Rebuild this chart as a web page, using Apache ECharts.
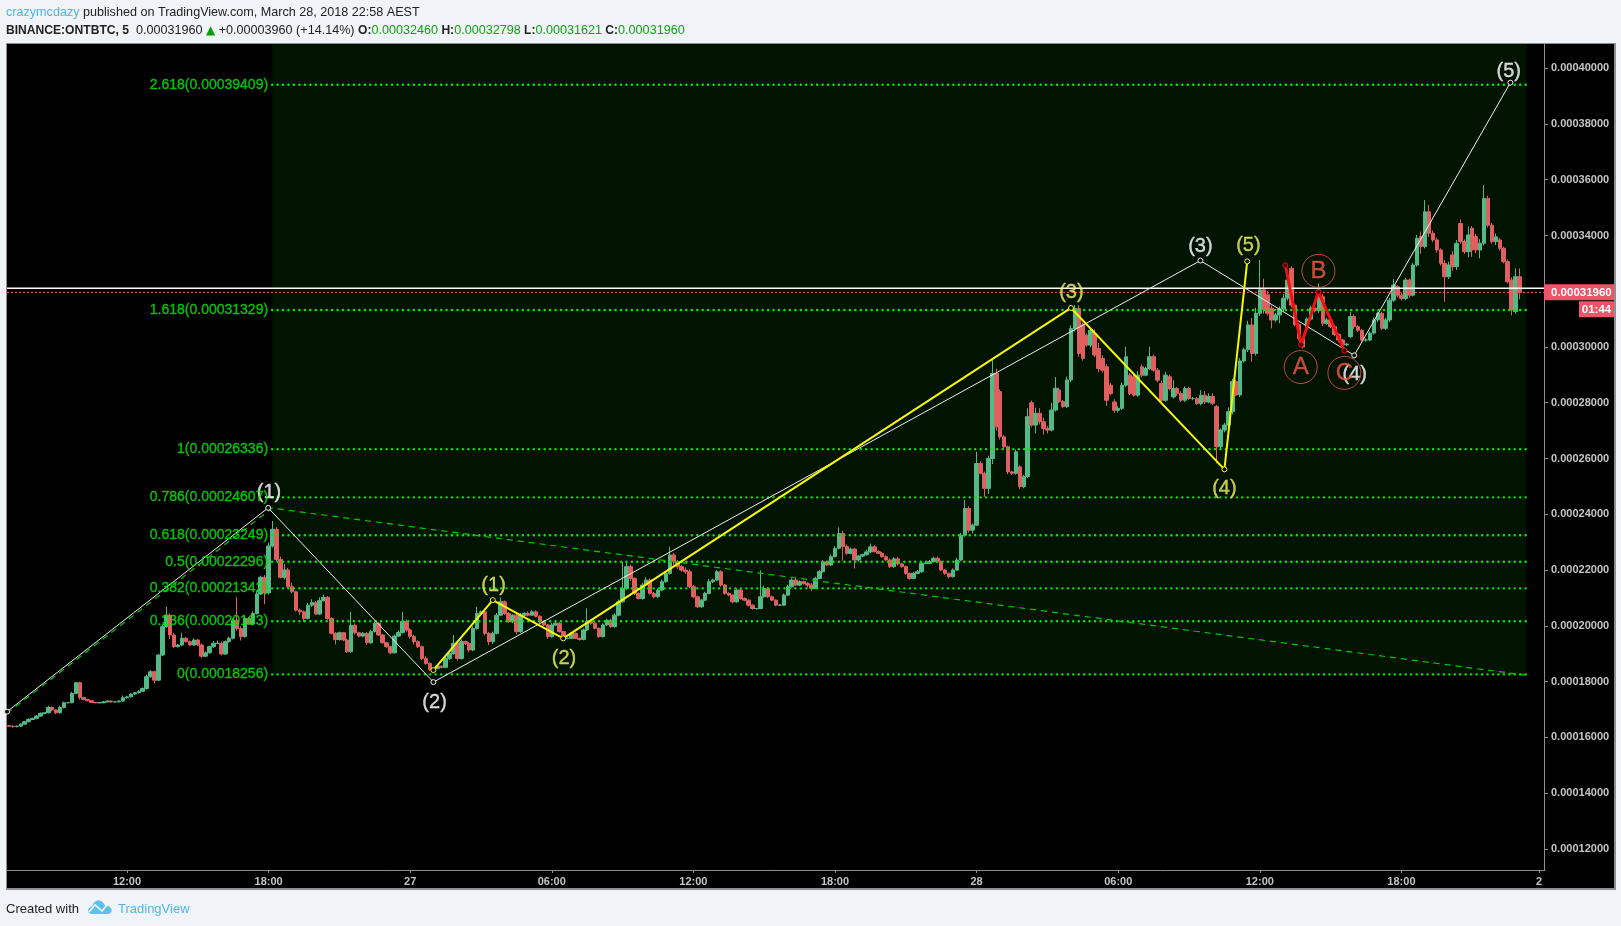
<!DOCTYPE html>
<html><head><meta charset="utf-8">
<style>
html,body{margin:0;padding:0;width:1621px;height:926px;background:#f0f3f8;overflow:hidden}
#panel{position:absolute;left:6px;top:43px;width:1607px;height:844px;background:#000;border:1px solid #8c8f94;border-width:1px 2px 2px 1px}
#c{position:absolute;left:0;top:0;width:1621px;height:926px}
</style></head><body>
<div id="panel"></div><div id="c"></div>
<script src="https://cdn.jsdelivr.net/npm/echarts@6/dist/echarts.min.js"></script>
<script>
// prices are in units of 0.0000001 BTC; each candle covers ten minutes
var closes=[
1640,1638,1640,1647,1656,1664,1668,1676,1686,1688,
1707,1698,1688,1707,1724,1724,1757,1796,1743,1736,
1731,1725,1724,1724,1727,1730,1727,1727,1730,1742,
1745,1755,1760,1765,1775,1817,1835,1805,1895,1997,
2038,1967,1925,1931,1955,1943,1931,1949,1931,1891,
1903,1925,1937,1937,1899,1943,1955,2020,1990,1961,
2026,2006,2044,2114,2174,2118,2286,2346,2238,2174,
2200,2140,2122,2056,2050,2026,2074,2083,2042,2090,
2102,2026,1973,1951,1975,1949,1907,2002,1975,1963,
1973,1939,1979,2009,1967,1939,1925,1903,1963,1976,
2015,1985,1962,1943,1925,1883,1865,1843,1847,1855,
1851,1882,1900,1937,1883,1943,1937,1913,1990,2044,
2050,1973,1943,1973,2038,2086,2044,2015,2038,1979,
2038,2044,2038,2050,2034,2015,2003,1961,2003,2009,
1979,1955,1955,1973,1955,1951,1985,2015,2009,1991,
1961,2003,2020,1997,2038,2086,2134,2212,2170,2116,
2098,2146,2164,2116,2104,2128,2158,2188,2254,2230,
2212,2200,2194,2140,2104,2068,2092,2116,2158,2164,
2194,2146,2116,2110,2086,2128,2098,2092,2074,2062,
2062,2104,2134,2104,2092,2074,2074,2110,2140,2164,
2146,2158,2152,2146,2134,2170,2194,2230,2218,2248,
2278,2331,2284,2260,2275,2236,2250,2255,2265,2283,
2266,2260,2248,2236,2212,2240,2222,2212,2188,2170,
2188,2194,2224,2224,2230,2242,2230,2200,2188,2176,
2200,2236,2325,2421,2343,2361,2582,2547,2493,2600,
2905,2714,2678,2642,2552,2547,2624,2499,2535,2750,
2720,2762,2732,2708,2702,2774,2852,2804,2786,2882,
3066,3138,2977,2959,3007,3060,2971,2923,2917,2809,
2833,2773,2780,2863,2965,2833,2827,2899,2899,2923,
2965,2917,2881,2809,2899,2851,2851,2833,2809,2851,
2815,2815,2797,2827,2803,2822,2798,2642,2702,2720,
2768,2876,2828,2950,2990,3079,2977,3121,3205,3134,
3121,3097,3115,3136,3175,3240,3150,3080,3030,3000,
3100,3140,3130,3180,3085,3097,3073,3045,3025,3008,
3010,3109,3073,3060,3025,3025,3050,3097,3121,3067,
3097,3168,3222,3186,3174,3240,3186,3294,3390,3360,
3485,3408,3384,3348,3300,3252,3294,3288,3372,3378,
3342,3402,3348,3348,3372,3533,3437,3378,3395,3354,
3306,3234,3133,3252,3196];
// candles whose open differs visibly from the previous close
var openGaps={252:2840,257:2570,260:2800,267:2846,273:3080,274:3042,276:3048,277:2995,278:2959,279:2929,280:2863,281:2803,285:2899,286:2893,288:2929,293:2869,295:2893,296:2821,307:2786,320:3187,321:3139,326:3282,330:3070,341:3037,353:3216,359:3396,367:3330,369:3443,372:3426,373:3396,379:3384,382:3240,383:3127};
var firstOpen=1642;
var wickUp=[
3,2,2,4,3,4,2,4,3,2,
6,4,2,5,4,3,6,2,3,2,
2,2,1,1,3,2,2,1,3,8,
4,3,3,5,4,8,6,4,4,8,
30,6,8,4,20,5,4,6,4,5,
5,4,8,10,6,4,6,6,84,8,
10,6,8,12,6,8,12,30,8,10,
22,8,15,4,6,5,8,12,6,12,
10,5,5,4,4,3,5,48,6,4,
5,4,6,6,4,3,4,3,6,8,
35,8,6,6,5,4,8,4,3,3,
3,6,12,30,6,8,4,4,8,24,
5,4,5,6,8,15,5,5,4,5,
8,5,8,6,5,4,4,4,8,6,
5,3,3,4,3,3,5,48,8,6,
3,6,5,5,6,8,95,20,8,4,
4,8,10,6,5,6,8,8,30,8,
6,6,10,8,6,4,5,6,10,5,
6,5,4,4,3,5,5,4,3,3,
2,95,10,5,4,3,4,6,8,6,
8,5,4,4,8,6,6,5,4,8,
8,22,10,8,6,5,4,4,8,12,
6,5,5,4,6,6,6,4,4,3,
5,6,8,6,6,6,6,4,4,3,
6,8,8,30,8,6,42,8,6,10,
48,18,8,6,4,4,8,6,6,30,
8,20,18,15,8,25,40,8,6,12,
12,12,12,8,6,6,15,20,12,10,
8,10,8,10,36,8,8,15,8,6,
36,8,8,10,12,8,30,6,8,8,
6,6,5,18,15,12,12,6,6,8,
15,10,6,10,8,15,25,20,107,40,
15,10,8,10,15,15,8,6,5,5,
6,8,6,48,10,8,5,6,5,4,
5,18,8,5,5,6,6,8,6,6,
8,8,22,6,8,8,6,8,12,18,
42,25,10,8,6,12,12,15,12,15,
8,30,8,10,15,48,10,8,12,8,
6,8,10,30,30];
var wickDown=[
3,3,2,3,2,3,2,3,2,3,
3,5,5,3,3,2,2,3,8,3,
2,2,2,2,2,2,3,2,2,3,
3,2,3,3,2,4,3,12,4,4,
4,15,4,3,4,3,3,3,3,6,
3,3,4,3,5,4,3,4,8,14,
3,3,4,4,4,40,6,5,6,4,
8,6,6,5,12,12,3,6,4,4,
3,4,4,18,4,4,5,4,6,5,
4,8,4,3,4,3,4,5,3,3,
4,6,8,10,5,6,5,5,4,3,
4,3,5,4,8,4,6,8,4,4,
4,8,12,8,4,4,5,5,5,10,
4,3,4,3,4,4,4,8,4,4,
4,5,3,3,3,4,3,4,5,4,
4,3,4,4,3,4,4,6,10,6,
4,4,4,4,6,4,4,4,4,12,
8,6,8,5,5,4,3,3,3,5,
4,5,4,4,5,3,4,4,5,4,
4,3,3,4,4,4,3,3,3,3,
3,4,4,8,10,3,3,3,3,3,
3,4,50,5,4,30,6,4,4,4,
3,3,4,4,5,4,6,4,5,5,
3,3,4,3,3,3,3,4,5,6,
3,3,4,5,8,12,3,4,30,20,
20,14,10,8,8,6,5,8,6,5,
6,30,10,22,12,5,6,5,6,5,
8,10,12,8,6,8,8,14,8,20,
6,10,8,6,6,6,5,6,8,4,
6,6,8,10,6,6,6,8,6,6,
5,6,5,6,8,5,6,60,8,8,
8,10,5,8,6,8,30,8,10,15,
8,30,8,30,8,8,8,6,6,5,
5,5,6,8,10,6,6,6,8,6,
5,5,8,6,6,6,4,6,8,6,
6,8,6,8,8,6,10,5,6,25,
6,15,8,10,8,90,8,15,12,8,
8,20,25,12,30,8,8,8,12,8,
6,6,20,8,25];
var tickLabels={30:'12:00',66:'18:00',102:'27',138:'06:00',174:'12:00',210:'18:00',246:'28',282:'06:00',318:'12:00',354:'18:00',389:'2'};
var priceTicks=[12,14,16,18,20,22,24,26,28,30,32,34,36,38,40];
var fibNames=['2.618','1.618','1','0.786','0.618','0.5','0.382','0.236','0'];
var fibPrices=[0.00039409,0.00031329,0.00026336,0.00024607,0.00023249,0.00022296,0.00021342,0.00020163,0.00018256];
var fibShownPrices=['0.00039409','0.00031329','0.00026336','0.00024607','0.00023249','0.00022296','0.00021342','0.00020163','0.00018256'];
// drawn waves: [candle position, price]
var whiteWave=[[-0.5,1692],[65.9,2423],[107.9,1798],[302.9,3310],[342,2970],[381.7,3948]];
var yellowWave=[[107.9,1841],[123,2092],[140.9,1955],[270,3140],[309,2561],[314.8,3307]];
var redWave=[[324.5,3293],[328.5,3008],[332.9,3198],[339.5,2987]];
var trendLine=[[-0.5,1686],[66.9,2422],[385.4,1823]];
var whiteTexts=[['(1)',66.1,2477],['(2)',108.2,1724],['(3)',302.9,3359],['(4)',342.1,2900],['(5)',381.3,3990]];
var yellowTexts=[['(1)',123.2,2143],['(2)',141.1,1883],['(3)',270.1,3196],['(4)',309,2491],['(5)',315.1,3363]];
var redTexts=[['A',328.4,2928],['B',332.9,3273],['C',339.5,2907]];
var fibLeft=66.9, fibRight=385.7;
var lastPrice=0.0003196, sessionLine=0.00032105, countdown='01:44';

var UNIT=1e-7, COUNT=391;
var categories=[];
for(var k=0;k<COUNT;k++){var m=7*60+k*10;categories.push(('0'+(Math.floor(m/60)%24)).slice(-2)+':'+('0'+(m%60)).slice(-2));}
var candles=closes.map(function(c,i){
  var o=openGaps[i]!==undefined?openGaps[i]:(i?closes[i-1]:firstOpen);
  var hi=Math.max(o,c)+(wickUp[i]||0), lo=Math.min(o,c)-(wickDown[i]||0);
  return [o*UNIT,c*UNIT,lo*UNIT,hi*UNIT];
});
function pts(a){return a.map(function(p){return [p[0],p[1]*UNIT];});}
var FONT='"Liberation Sans",Arial,sans-serif';
var LIME='#00ea00';
function lineS(data,color,width,extra){
  var s={type:'line',xAxisIndex:1,yAxisIndex:0,data:pts(data),showSymbol:true,symbol:'circle',symbolSize:5,silent:true,animation:false,
    lineStyle:{color:color,width:width},itemStyle:{color:'#0a0a0a',borderColor:color,borderWidth:1},z:6};
  for(var key in extra)s[key]=extra[key];
  return s;
}
function textS(list,color,size,circle){
  return {type:'scatter',xAxisIndex:1,yAxisIndex:0,silent:true,animation:false,z:8,
    symbol:'circle',symbolSize:circle?33:1,
    itemStyle:circle?{color:'rgba(0,0,0,0)',borderColor:color,borderWidth:1}:{color:'rgba(0,0,0,0)'},
    label:{show:true,position:'inside',color:color,fontSize:size,fontFamily:FONT,textBorderColor:color,textBorderWidth:0.35,formatter:function(p){return p.data[2];}},
    data:list.map(function(t){return [t[1],t[2]*UNIT,t[0]];})};
}
var series=[];
// shaded fibonacci zone and its levels
fibPrices.forEach(function(v,i){
  var s={type:'line',xAxisIndex:1,yAxisIndex:0,silent:true,animation:false,showSymbol:false,z:4,
    data:[[fibLeft,v],[fibRight,v]],lineStyle:{color:LIME,width:2.4,cap:'round',type:[0.1,5.35]}};
  if(i===fibPrices.length-1){s.markArea={silent:true,z:1,itemStyle:{color:'#011301'},data:[[{coord:[fibLeft,v]},{coord:[fibRight,0.00040868]}]]};}
  series.push(s);
});
series.push({type:'candlestick',xAxisIndex:0,yAxisIndex:0,data:candles,barWidth:4,silent:true,animation:false,z:3,
  itemStyle:{color:'#53b987',color0:'#e0605f',borderColor:'#53b987',borderColor0:'#e0605f',borderWidth:1}});
series.push({type:'line',xAxisIndex:1,yAxisIndex:0,silent:true,animation:false,showSymbol:false,z:5,data:[[-0.5,sessionLine],[390.5,sessionLine]],lineStyle:{color:'#ffffff',width:1.5}});
series.push({type:'line',xAxisIndex:1,yAxisIndex:0,silent:true,animation:false,showSymbol:false,z:5,data:[[-0.5,lastPrice],[390.5,lastPrice]],lineStyle:{color:'#ff5a5a',width:1,type:[2,2]}});
series.push({type:'line',xAxisIndex:1,yAxisIndex:0,silent:true,animation:false,showSymbol:false,z:5,data:pts(trendLine),lineStyle:{color:'#00c800',width:1.2,type:[6,5]}});
series.push(lineS(whiteWave,'#f0f0f0',1));
series.push(lineS(yellowWave,'#f8f800',2));
series.push(lineS(redWave,'#f01010',3,{itemStyle:{color:'#400000',borderColor:'#f01010',borderWidth:1}}));
series.push(textS(whiteTexts,'#ffffff',20));
series.push(textS(yellowTexts,'#f2f25c',20));
series.push(textS(redTexts,'#f5574a',24,true));
series.push({type:'scatter',xAxisIndex:1,yAxisIndex:0,silent:true,animation:false,z:9,symbolSize:1,itemStyle:{color:'rgba(0,0,0,0)'},
  label:{show:true,position:'left',distance:0,color:LIME,fontSize:14,fontFamily:FONT,textBorderColor:LIME,textBorderWidth:0.35,formatter:function(p){return p.data[2];}},
  data:fibPrices.map(function(v,i){return [66,v,fibNames[i]+'('+fibShownPrices[i]+')'];})});

var chart=echarts.init(document.getElementById('c'),null,{renderer:'canvas'});
chart.setOption({
  backgroundColor:'transparent',animation:false,
  textStyle:{fontFamily:FONT},
  grid:{left:7,top:44,width:1538,height:826,containLabel:false},
  xAxis:[
    {type:'category',data:categories,boundaryGap:true,gridIndex:0,position:'bottom',
     axisLine:{show:true,onZero:false,lineStyle:{color:'#8c8f94',width:1}},
     axisTick:{show:true,alignWithLabel:true,length:3,lineStyle:{color:'#8c8f94'},interval:function(i){return tickLabels[i]!==undefined;}},
     axisLabel:{show:true,color:'#c4c4c4',fontSize:11,fontWeight:'bold',fontFamily:FONT,margin:6,interval:function(i){return tickLabels[i]!==undefined;},hideOverlap:false,formatter:function(v,i){return tickLabels[i]||'';}},
     splitLine:{show:false}},
    {type:'value',gridIndex:0,min:-0.5,max:390.5,show:false,splitLine:{show:false}}
  ],
  yAxis:[{type:'value',position:'right',offset:-1,min:0.00011240,max:0.00040868,scale:true,
     axisLine:{show:true,onZero:false,lineStyle:{color:'#8c8f94',width:1}},
     axisTick:{show:true,length:4,lineStyle:{color:'#8c8f94'},customValues:priceTicks.map(function(v){return v*1e-5;})},
     axisLabel:{show:true,color:'#c4c4c4',fontSize:11,fontWeight:'bold',fontFamily:FONT,margin:7,customValues:priceTicks.map(function(v){return v*1e-5;}),showMinLabel:true,showMaxLabel:true,formatter:function(v){return v.toFixed(8);}},
     splitLine:{show:false}}],
  series:series
});
var tagY=chart.convertToPixel({yAxisIndex:0},lastPrice);
var BLUE='#4fb6e6',VAL='#12a012',INK='#222222',FS=12.6;
function st(fill,bold){return {fill:fill,fontSize:FS,fontFamily:FONT,fontWeight:bold?'bold':'normal'};}
chart.setOption({graphic:{elements:[
  {type:'text',left:6,top:6,style:{text:'{a|crazymcdazy}{b| published on TradingView.com, March 28, 2018 22:58 AEST}',rich:{a:st(BLUE),b:st(INK)},font:FS+'px '+FONT}},
  {type:'text',left:6,top:24,style:{text:'{k|BINANCE:ONTBTC, 5}{b|  0.00031960 }{t|▲}{b| +0.00003960 (+14.14%) }{k|O:}{v|0.00032460}{k| H:}{v|0.00032798}{k| L:}{v|0.00031621}{k| C:}{v|0.00031960}',
    rich:{k:{fill:INK,fontSize:12.1,fontFamily:FONT,fontWeight:'bold'},b:st(INK),v:st(VAL),t:{fill:'#0aa00a',fontSize:12,fontFamily:'"DejaVu Sans"'}},font:FS+'px '+FONT}},
  {type:'rect',shape:{x:1544,y:tagY-8,width:70,height:16},style:{fill:'#ef5368'},z:20},
  {type:'text',x:1551,y:tagY,z:21,style:{text:'0.00031960',fill:'#fff',fontSize:11.5,fontWeight:'bold',fontFamily:FONT,verticalAlign:'middle',align:'left'}},
  {type:'rect',shape:{x:1579,y:tagY+9,width:35,height:16},style:{fill:'#ef5368'},z:20},
  {type:'text',x:1596.5,y:tagY+17,z:21,style:{text:countdown,fill:'#fff',fontSize:11.5,fontWeight:'bold',fontFamily:FONT,verticalAlign:'middle',align:'center'}},
  {type:'text',left:6,top:903,style:{text:'Created with',fill:INK,fontSize:13,fontFamily:FONT}},
  {type:'polygon',shape:{points:[[91,914],[88.5,912.5],[88,909.5],[90,907],[92,906.5],[94,902.5],[97,900.5],[100,900.5],[103,902.5],[105,905.5],[108.5,906],[111.5,909],[111.5,912],[109,914]]},style:{fill:'#5bc0eb'}},
  {type:'polyline',shape:{points:[[89,912],[95,905],[102,911],[107,905]]},style:{stroke:'#f0f3f8',lineWidth:1.6,fill:null}},
  {type:'text',left:118,top:903,style:{text:'TradingView',fill:BLUE,fontSize:13,fontFamily:FONT}}
]}});
</script>
</body></html>
